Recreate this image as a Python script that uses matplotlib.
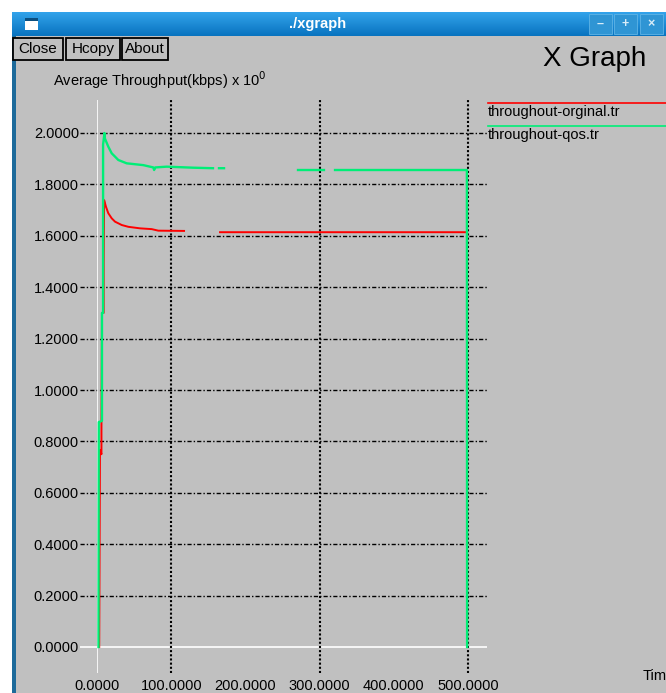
import numpy as np
import matplotlib
matplotlib.use("Agg")
import matplotlib.pyplot as plt
from matplotlib.lines import Line2D
from matplotlib.patches import Rectangle

# ---------------- data ----------------
nan = np.nan
orig_t = [3.0, 4.0, 6.0, 6.0, 6.7, 9.0, 9.0, 9.6, 12.1, 15.2, 19.8, 24.3, 33.3, 42.2,
          58.0, 73.7, 82.6, 117.3, nan, 165.8, 498.7]
orig_v = [0.0, 0.767, 0.75, 0.856, 1.30, 1.30, 1.494, 1.739, 1.713, 1.688, 1.668, 1.655,
          1.642, 1.635, 1.629, 1.626, 1.620, 1.619, nan, 1.614, 1.614]

qos_t = [2.0, 2.4, 6.7, 6.7, 8.2, 8.2, 10.1, 10.6, 15.2, 19.8, 24.3, 28.7, 40.0,
         62.4, 75.9, 77.0, 78.5, 93.9, 129.8, 156.3, nan, 164.4, 171.2, nan,
         270.9, 305.9, nan, 320.8, 498.5, 498.8]
qos_v = [0.0, 0.875, 0.88, 1.30, 1.30, 1.955, 2.0, 1.979, 1.947, 1.921, 1.908,
         1.895, 1.882, 1.875, 1.866, 1.856, 1.866, 1.869, 1.865, 1.863, nan,
         1.863, 1.863, nan, 1.856, 1.856, nan, 1.856, 1.856, 0.0]

series_names = ["throughout-orginal.tr", "throughout-qos.tr"]
series_colors = ["#ff0000", "#00ee77"]

y_ticks = [0.0, 0.2, 0.4, 0.6, 0.8, 1.0, 1.2, 1.4, 1.6, 1.8, 2.0]
y_tick_labels = ["%.4f" % v for v in y_ticks]
x_ticks = [0, 100, 200, 300, 400, 500]
x_tick_labels = ["%.4f" % v for v in x_ticks]
x_grid = [100, 300, 500]

y_label = "Average Throughput(kbps) x 10$^{0}$"
x_label = "Tim"
window_title = "./xgraph"
buttons = ["Close", "Hcopy", "About"]

# ---------------- figure ----------------
W, H = 666, 693
plt.rcParams['font.family'] = ['Liberation Sans', 'DejaVu Sans']
fig = plt.figure(figsize=(W / 100, H / 100), dpi=100)
fig.patch.set_facecolor("white")

def fx(px):
    return px / W

def fy(py):
    return 1 - py / H

GRAY = "#c0c0c0"
# window body
fig.patches.append(Rectangle((fx(12), 0), 1 - fx(12), fy(36), transform=fig.transFigure,
                             facecolor=GRAY, edgecolor="none", zorder=-5))
# left border
fig.patches.append(Rectangle((fx(12), 0), fx(4), fy(36), transform=fig.transFigure,
                             facecolor="#1d6a9a", edgecolor="none", zorder=-4))

# title bar gradient
tax = fig.add_axes([fx(12), fy(36), 1 - fx(12), (36 - 12) / H])
tax.set_zorder(-3)
grad = np.linspace(0, 1, 50)[:, None]
c_top = np.array([0.20, 0.64, 0.92])
c_bot = np.array([0.03, 0.45, 0.75])
img = c_top[None, None, :] * (1 - grad[:, :, None]) + c_bot[None, None, :] * grad[:, :, None]
tax.imshow(np.repeat(img, 2, axis=1), aspect="auto", extent=[0, 1, 0, 1])
tax.set_axis_off()
fig.text(fx(318), fy(24), window_title, color="white", fontsize=10.5, fontweight="bold",
         ha="center", va="center")
fig.patches.append(Rectangle((fx(25), fy(30)), 13 / W, 12 / H, transform=fig.transFigure,
                             facecolor="white", edgecolor="none", zorder=5))
fig.patches.append(Rectangle((fx(25), fy(21)), 13 / W, 3 / H, transform=fig.transFigure,
                             facecolor="#0b4f80", edgecolor="none", zorder=6))
for x0, glyph in [(589, "–"), (614, "+"), (640, "×")]:
    fig.patches.append(Rectangle((fx(x0), fy(34)), 23 / W, 20 / H, transform=fig.transFigure,
                                 facecolor="#2f95d4", edgecolor="#5fb4e6", lw=0.6, zorder=5))
    fig.text(fx(x0 + 11.5), fy(24), glyph, color="#d8ecf8", fontsize=9, fontweight="bold",
             ha="center", va="center", zorder=6)

# buttons
for (x0, x1), lab in zip([(13, 63), (66, 120), (122, 168)], buttons):
    fig.patches.append(Rectangle((fx(x0), fy(60)), (x1 - x0) / W, 22 / H, transform=fig.transFigure,
                                 facecolor=GRAY, edgecolor="black", lw=1.3, zorder=5))
    fig.text(fx((x0 + x1) / 2), fy(49), lab, fontsize=11, ha="center", va="center", zorder=6)

fig.text(fx(543), fy(59), "X Graph", fontsize=20, ha="left", va="center")
fig.text(fx(53), fy(80), y_label, fontsize=10.5, ha="left", va="center")
fig.text(fx(643), fy(676), x_label, fontsize=10.5, ha="left", va="center")

# ---------------- plot axes ----------------
PX_X = 0.742   # px per x unit
PX_Y = 257.0   # px per y unit
X0, Y0 = 97, 647
ax_l, ax_r, ax_t, ax_b = 97, 487, 100, 673
ax = fig.add_axes([fx(ax_l), fy(ax_b), (ax_r - ax_l) / W, (ax_b - ax_t) / H])
ax.set_xlim((ax_l - X0) / PX_X, (ax_r - X0) / PX_X)
ax.set_ylim((Y0 - ax_b) / PX_Y, (Y0 - ax_t) / PX_Y)
ax.patch.set_visible(False)
for s in ax.spines.values():
    s.set_visible(False)

x_left = (80 - X0) / PX_X
for yv in y_ticks:
    if yv == 0:
        ax.hlines(yv, x_left, ax.get_xlim()[1], colors="white", lw=1.2, clip_on=False, zorder=1)
    else:
        ax.hlines(yv, x_left, ax.get_xlim()[1], colors="black", lw=1.0,
                  linestyles=[(0, (3, 1.5, 1, 1.5))], clip_on=False, zorder=1)
ax.axvline(0, color="white", lw=1.2, zorder=1)
for xv in x_grid:
    ax.axvline(xv, color="black", lw=1.5, linestyle=(0, (1, 1)), zorder=1)

ax.plot(orig_t, orig_v, color=series_colors[0], lw=1.4, zorder=3)
ax.plot(qos_t, qos_v, color=series_colors[1], lw=1.7, zorder=4)

ax.set_xticks(x_ticks, labels=x_tick_labels)
ax.set_yticks(y_ticks, labels=y_tick_labels)
ax.tick_params(axis="x", length=0, pad=4.5, labelsize=10.5)
ax.tick_params(axis="y", length=0, pad=13, labelsize=10.5)

# legend (xgraph style: line above name)
for i, (name, col) in enumerate(zip(series_names, series_colors)):
    ly = 103 + 23 * i
    fig.add_artist(Line2D([fx(488), 1.0], [fy(ly), fy(ly)], color=col, lw=1.2,
                          transform=fig.transFigure))
    fig.text(fx(488), fy(ly + 9), name, fontsize=10.5, ha="left", va="center")

fig.savefig("out.png", dpi=100, facecolor=fig.get_facecolor())
